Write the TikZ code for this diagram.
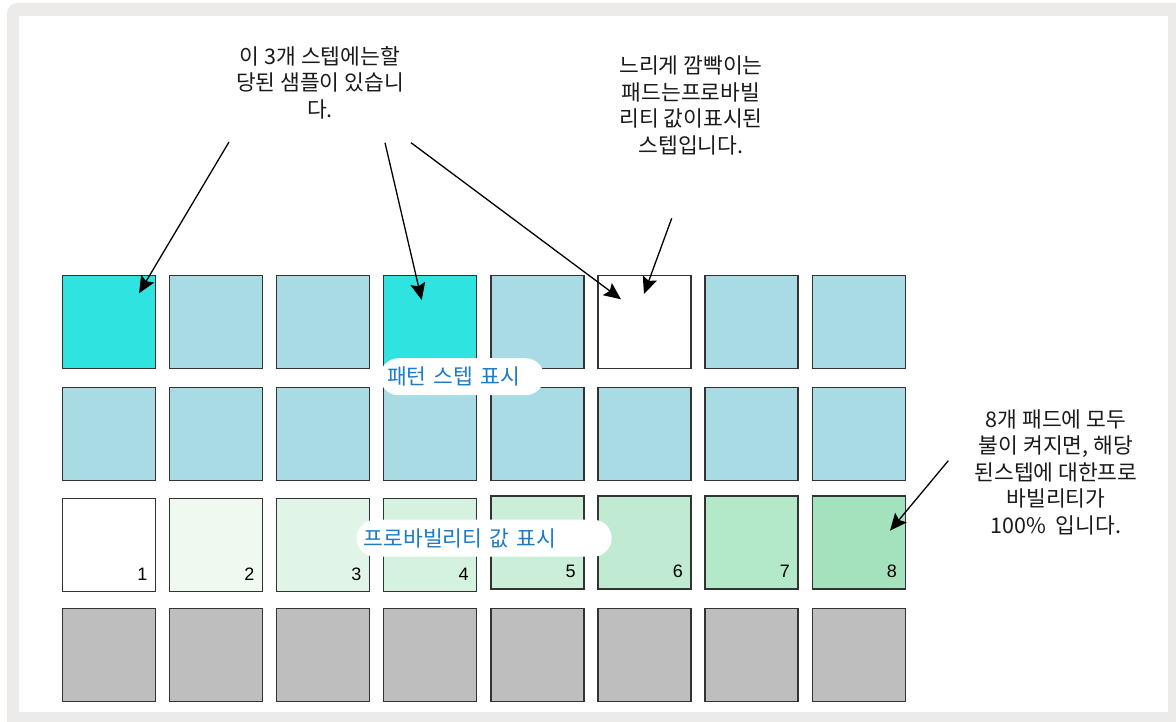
\documentclass[tikz,border=0pt]{standalone}
\usepackage{fontspec}
\setmainfont{Noto Sans CJK KR}
\newfontfamily\numfont{Liberation Sans}
\usetikzlibrary{arrows.meta}
\definecolor{framegrey}{HTML}{EDEAEA}
\definecolor{padline}{HTML}{333333}
\definecolor{cyanpad}{HTML}{2EE3E0}
\definecolor{bluepad}{HTML}{A9DBE5}
\definecolor{greypad}{HTML}{BEBEBE}
\definecolor{gA}{HTML}{FFFFFF}
\definecolor{gB}{HTML}{EFF9F0}
\definecolor{gC}{HTML}{E0F5E8}
\definecolor{gD}{HTML}{D5F1E0}
\definecolor{gE}{HTML}{CBEED9}
\definecolor{gF}{HTML}{C0EBD2}
\definecolor{gG}{HTML}{B3E8C9}
\definecolor{gH}{HTML}{A3E2BC}
\definecolor{labelblue}{HTML}{1E7BC8}
\definecolor{anntext}{HTML}{1A1A1A}
\tikzset{
  pad/.style={draw=padline, line width=1.3pt, minimum width=93pt, minimum height=93pt, inner sep=0pt, outer sep=0pt},
  padnum/.style={font=\numfont\fontsize{18}{18}\selectfont, text=black, inner sep=0pt, anchor=base east},
  ann/.style={font=\fontsize{21.5}{26.5}\selectfont, text=anntext, align=center, inner sep=0pt, anchor=north},
  pill/.style={fill=white, rounded corners=18.5pt, minimum height=37pt, inner xsep=7pt, inner ysep=0pt, align=left, text=labelblue, font=\fontsize{21.5}{24}\selectfont},
  arr/.style={line width=1.3pt, -{Stealth[length=17pt, width=15pt, inset=3pt]}}
}
\begin{document}
\begin{tikzpicture}[x=1pt, y=-1pt]
\useasboundingbox (0,0) rectangle (1176,722);
\clip (0,0) rectangle (1176,722);
\fill[framegrey, rounded corners=10pt] (7,3) rectangle (1200,740);
\fill[white] (19,16) rectangle (1168,712);
% row 1
\foreach \c/\col in {1/cyanpad,2/bluepad,3/bluepad,4/cyanpad,5/bluepad,6/white,7/bluepad,8/bluepad}{
  \node[pad, fill=\col] (p1\c) at ({62+107.1*(\c-1)+47}, 321.7) {};
}
% row 2
\foreach \c in {1,...,8}{
  \node[pad, fill=bluepad] (p2\c) at ({62+107.1*(\c-1)+47}, 433.8) {};
}
% row 3
\foreach \c/\col in {1/gA,2/gB,3/gC,4/gD}{
  \node[pad, fill=\col] (p3\c) at ({62+107.1*(\c-1)+47}, 545.2) {};
  \node[padnum] at ([xshift=-8pt, yshift=11.7pt]p3\c.south east) {\c};
}
\foreach \c/\col in {5/gE,6/gF,7/gG,8/gH}{
  \node[pad, fill=\col] (p3\c) at ({62+107.1*(\c-1)+47}, 542.4) {};
  \node[padnum] at ([xshift=-8pt, yshift=11.7pt]p3\c.south east) {\c};
}
% row 4
\foreach \c in {1,...,8}{
  \node[pad, fill=greypad] (p4\c) at ({62+107.1*(\c-1)+47}, 654.8) {};
}
% labels on pads
\node[pill, text width=150pt] (lblstep) at (462,376.7) {패턴 스텝 표시};
\node[pill, text width=241pt] (lblprob) at (484.2,538.2) {프로바빌리티 값 표시};
% annotations
\node[ann] (noteA) at (320,46) {이 3개 스텝에는할\\당된 샘플이 있습니\\다.};
\node[ann] (noteB) at (691,56) {느리게 깜빡이는\\패드는프로바빌\\리티 값이표시된\\스텝입니다.};
\node[ann] (noteC) at (1056,409.5) {8개 패드에 모두\\불이 켜지면, 해당\\된스텝에 대한프로\\바빌리티가\\100\%\ \ 입니다.};
% arrows
\coordinate (a1s) at (229,142);
\coordinate (a1e) at (139,293.3);
\coordinate (a2s) at (385,142.7);
\coordinate (a2e) at (421.7,300);
\coordinate (a3s) at (411,142.7);
\coordinate (a3e) at (621,299.3);
\coordinate (a4s) at (671.7,218.3);
\coordinate (a4e) at (644,294);
\coordinate (a5s) at (948.3,460.7);
\coordinate (a5e) at (890,530.7);
\draw[arr] (a1s) -- (a1e);
\draw[arr] (a2s) -- (a2e);
\draw[arr] (a3s) -- (a3e);
\draw[arr] (a4s) -- (a4e);
\draw[arr] (a5s) -- (a5e);
\end{tikzpicture}
\end{document}
